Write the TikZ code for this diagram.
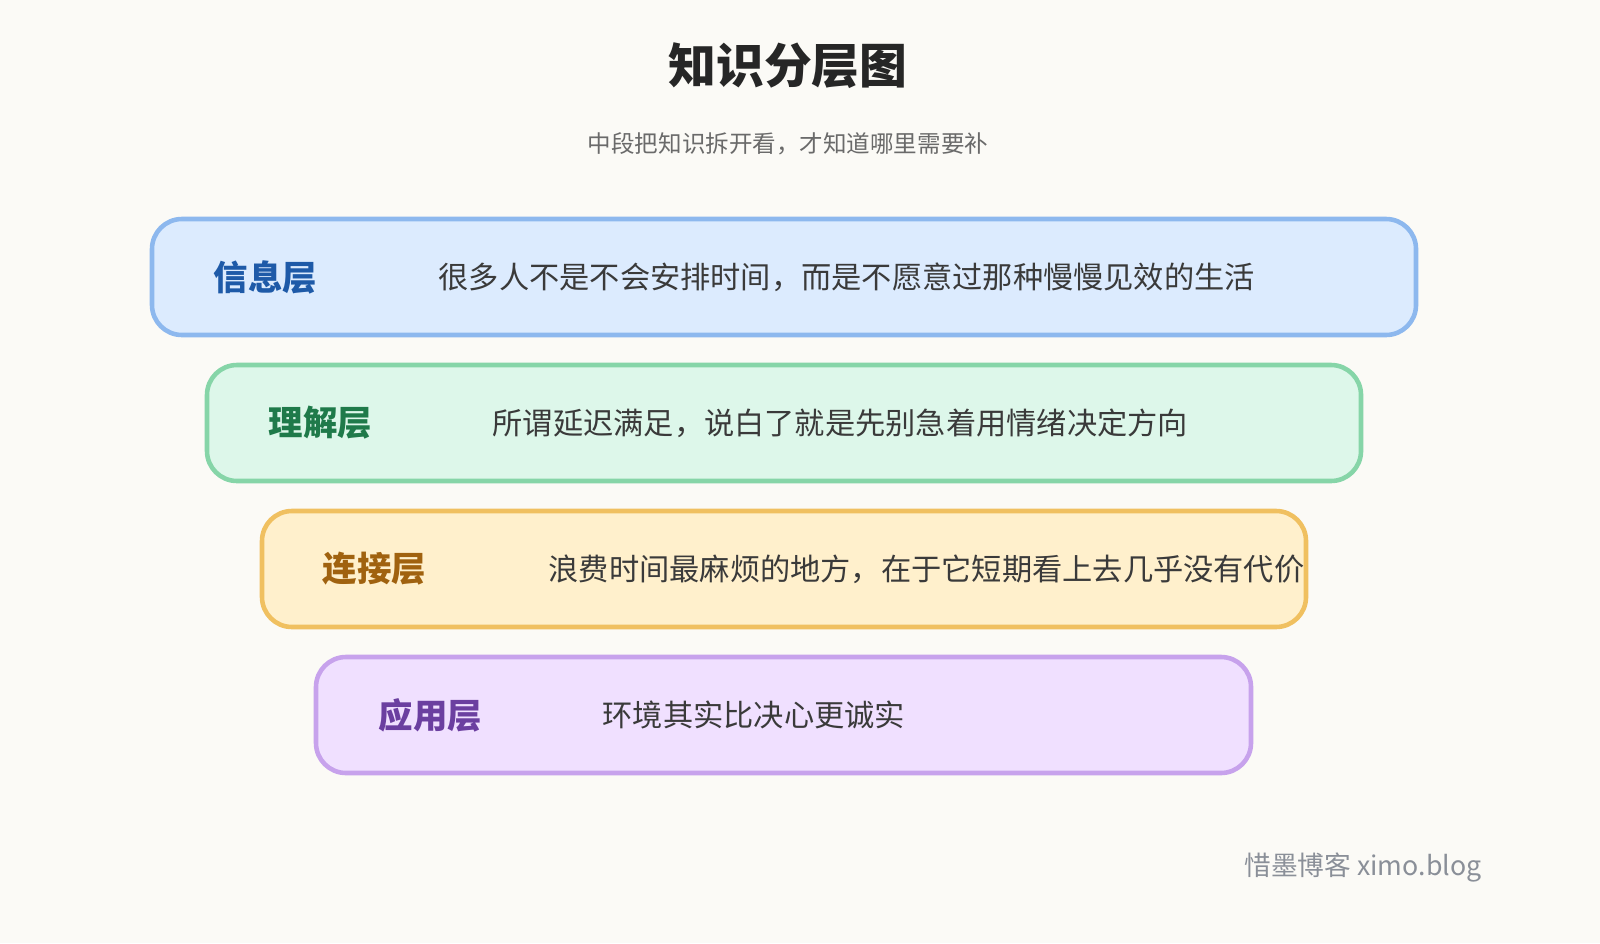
\documentclass[tikz,border=0pt]{standalone}
\usepackage{fontspec}
\setmainfont{Noto Sans CJK SC}
\usetikzlibrary{positioning}
\definecolor{bgpaper}{HTML}{FBFAF6}
\definecolor{bodytext}{HTML}{3A3A3A}
\definecolor{subtext}{HTML}{6A6A6A}
\definecolor{marktext}{HTML}{8A8F98}
\definecolor{infofill}{HTML}{DCEBFE}\definecolor{infoline}{HTML}{8DB8EE}\definecolor{infotext}{HTML}{1E5AA8}
\definecolor{undfill}{HTML}{DDF7EA}\definecolor{undline}{HTML}{86D5A8}\definecolor{undtext}{HTML}{1F7A4A}
\definecolor{linkfill}{HTML}{FFF0CC}\definecolor{linkline}{HTML}{F0C060}\definecolor{linktext}{HTML}{A0620F}
\definecolor{usefill}{HTML}{F0E0FF}\definecolor{useline}{HTML}{C7A2EC}\definecolor{usetext}{HTML}{6B3FA0}
\tikzset{
  layerbox/.style={rounded corners=0.3cm, line width=1.3pt},
  layername/.style={anchor=west, inner sep=0pt, font=\fontsize{9.8pt}{11pt}\selectfont\bfseries},
  layertext/.style={anchor=west, inner sep=0pt, text=bodytext, font=\fontsize{8.6pt}{10pt}\selectfont}
}
\begin{document}
\begin{tikzpicture}
        %BACKGROUND
        \fill[bgpaper] (0,0) rectangle (16,9.43);
        \useasboundingbox (0,0) rectangle (16,9.43);
        %TITLE
        \node[inner sep=0pt, text=black!85, font=\fontsize{13.6pt}{15pt}\selectfont\bfseries] (title) at (7.88,8.77) {知识分层图};
        \node[inner sep=0pt, text=subtext, font=\fontsize{6.7pt}{8pt}\selectfont, below=0.42cm of title] (subtitle) {中段把知识拆开看，才知道哪里需要补};
        %LAYERS
        \draw[layerbox, fill=infofill, draw=infoline] (1.52,6.08) rectangle (14.16,7.24);
        \node[layername, text=infotext] (info) at (2.13,6.66) {信息层};
        \node[layertext] (infodesc) at (4.38,6.66) {很多人不是不会安排时间，而是不愿意过那种慢慢见效的生活};
        \draw[layerbox, fill=undfill, draw=undline] (2.07,4.62) rectangle (13.61,5.78);
        \node[layername, text=undtext] (und) at (2.68,5.20) {理解层};
        \node[layertext] (unddesc) at (4.92,5.20) {所谓延迟满足，说白了就是先别急着用情绪决定方向};
        \draw[layerbox, fill=linkfill, draw=linkline] (2.62,3.16) rectangle (13.06,4.32);
        \node[layername, text=linktext] (link) at (3.22,3.74) {连接层};
        \node[layertext] (linkdesc) at (5.48,3.74) {浪费时间最麻烦的地方，在于它短期看上去几乎没有代价};
        \draw[layerbox, fill=usefill, draw=useline] (3.16,1.70) rectangle (12.51,2.86);
        \node[layername, text=usetext] (use) at (3.78,2.28) {应用层};
        \node[layertext] (usedesc) at (6.02,2.28) {环境其实比决心更诚实};
        %MARK
        \node[anchor=east, inner sep=0pt, text=marktext, font=\fontsize{7.6pt}{9pt}\selectfont] (mark) at (14.82,0.76) {惜墨博客 ximo.blog};
\end{tikzpicture}
\end{document}
